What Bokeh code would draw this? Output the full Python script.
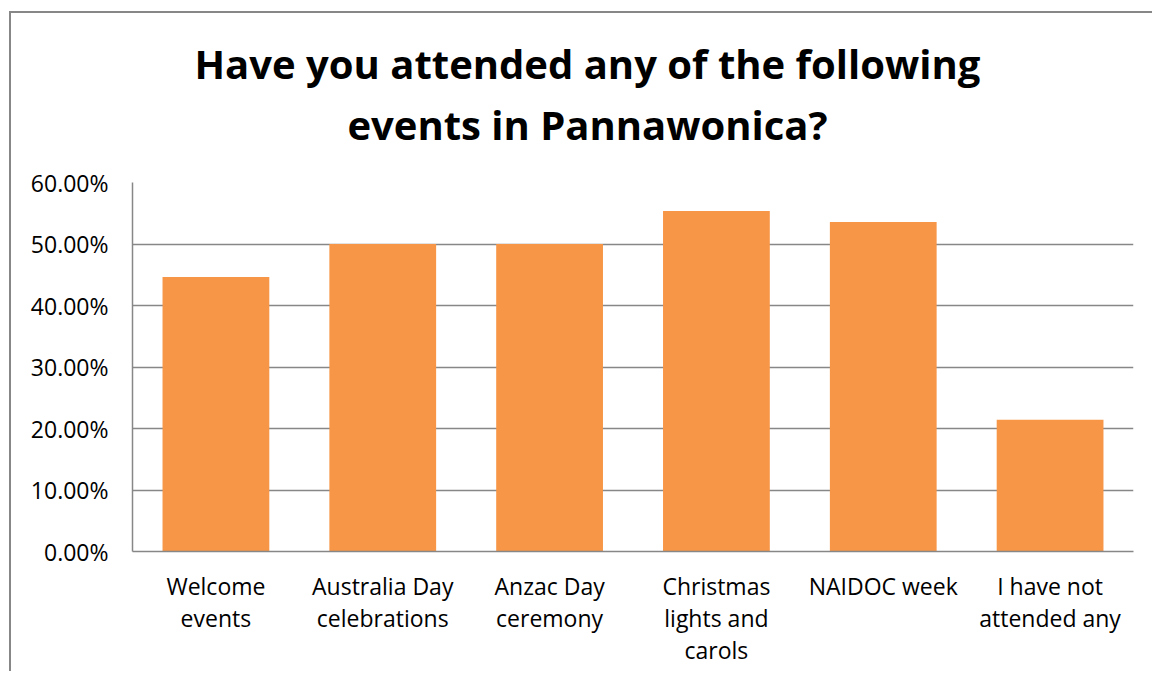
from bokeh.plotting import figure
from bokeh.models import (LinearAxis, NumeralTickFormatter, FixedTicker, ColumnDataSource)
from bokeh.embed import file_html
from bokeh.resources import INLINE

categories = ["Welcome\nevents", "Australia Day\ncelebrations", "Anzac Day\nceremony",
              "Christmas\nlights and\ncarols", "NAIDOC week", "I have not\nattended any"]
values = [0.4464, 0.5000, 0.5000, 0.5536, 0.5357, 0.2143]
y_ticks = [0.0, 0.1, 0.2, 0.3, 0.4, 0.5, 0.6]
title_lines = ["Have you attended any of the following", "events in Pannawonica?"]

FONT = "Open Sans"
GRID = "#878787"

positions = [i + 0.5 for i in range(len(categories))]
src = ColumnDataSource(dict(x=positions, val=values))

p = figure(x_range=(0, len(categories)), y_range=(0, 0.6),
           width=1143, height=660, output_backend="svg", toolbar_location=None,
           min_border_left=121, min_border_right=21, min_border_top=169, min_border_bottom=122)
p.styles = {"border-left": "2px solid #878787", "border-top": "2px solid #878787",
            "margin-left": "9px", "margin-top": "11px"}

p.vbar(x="x", top="val", width=0.64, source=src, fill_color="#F79646", line_color=None)

# Title: two centred lines, drawn as labels of helper axes above the frame
title_center = 2.727
for txt, standoff in zip(reversed(title_lines), [31, 3]):
    ax = LinearAxis(ticker=FixedTicker(ticks=[title_center]),
                    major_label_overrides={title_center: txt})
    ax.axis_line_color = None
    ax.major_tick_line_color = None
    ax.minor_tick_line_color = None
    ax.major_tick_in = 0
    ax.major_tick_out = 0
    ax.major_label_standoff = standoff
    ax.major_label_text_font = FONT
    ax.major_label_text_font_style = "bold"
    ax.major_label_text_font_size = "40px"
    ax.major_label_text_color = "#000000"
    p.add_layout(ax, "above")

xax = p.below[0]
xax.ticker = FixedTicker(ticks=positions)
xax.major_label_overrides = {pos: cat for pos, cat in zip(positions, categories)}

yax = p.left[0]
yax.ticker = FixedTicker(ticks=y_ticks)
yax.formatter = NumeralTickFormatter(format="0.00%")
for ax in (xax, yax):
    ax.axis_line_color = GRID
    ax.axis_line_width = 1.5
    ax.major_tick_line_color = None
    ax.minor_tick_line_color = None
    ax.major_tick_in = 0
    ax.major_tick_out = 0
    ax.major_label_text_font = FONT
    ax.major_label_text_font_size = "23px"
    ax.major_label_text_color = "#000000"
yax.major_label_standoff = 24
xax.major_label_standoff = 18
xax.major_label_text_line_height = 1.0

p.xgrid.grid_line_color = None
p.ygrid.grid_line_color = GRID
p.ygrid.grid_line_width = 1.5
p.outline_line_color = None
p.background_fill_color = "white"
p.border_fill_color = "white"

open("out.html", "w").write(file_html(p, INLINE))
